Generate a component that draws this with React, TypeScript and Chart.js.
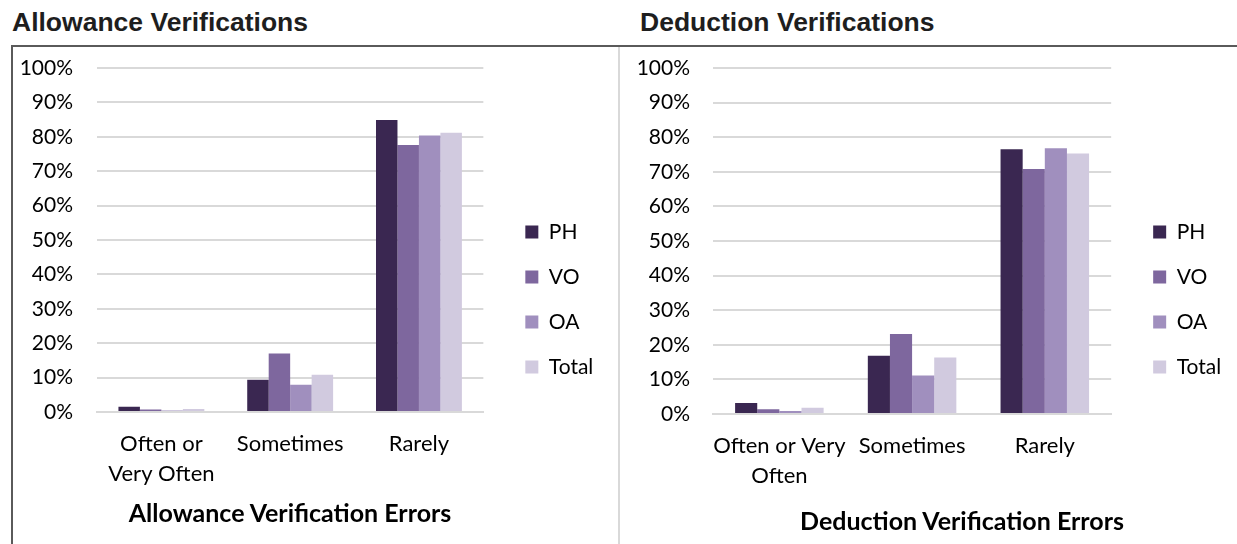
import React, { useEffect, useRef } from "react";
import { Chart, registerables } from "chart.js";

Chart.register(...registerables);

const seriesNames = ["PH", "VO", "OA", "Total"];
const seriesColors = ["#3A2751", "#7E679E", "#A08FBE", "#D1CADF"];

const allowanceCategories: (string | string[])[] = [["Often or", "Very Often"], "Sometimes", "Rarely"];
const allowancePH = [1.5, 9.4, 84.9];
const allowanceVO = [0.7, 17.0, 77.6];
const allowanceOA = [0.4, 7.9, 80.4];
const allowanceTotal = [0.9, 10.8, 81.2];

const deductionCategories: (string | string[])[] = [["Often or Very", "Often"], "Sometimes", "Rarely"];
const deductionPH = [3.2, 16.8, 76.5];
const deductionVO = [1.4, 23.1, 70.8];
const deductionOA = [0.9, 11.1, 76.8];
const deductionTotal = [1.8, 16.3, 75.3];

const yMin = 0;
const yMax = 100;
const yStep = 10;

const FONT = "Lato, 'Open Sans', sans-serif";
const LABEL_SIZE = 21;
const XLABEL_SIZE = 22;

type PanelProps = {
  left: number;
  top: number;
  width: number;
  height: number;
  categories: (string | string[])[];
  series: number[][];
  yAxisWidth: number;
  yPad: number;
  xAxisHeight: number;
  rightPad: number;
};

function zeroPad(s: any) {
  s.paddingTop = 0;
  s.paddingBottom = 0;
}

function BarPanel(props: PanelProps) {
  const ref = useRef<HTMLCanvasElement | null>(null);
  useEffect(() => {
    if (!ref.current) return;
    const chart = new Chart(ref.current, {
      type: "bar",
      data: {
        labels: props.categories,
        datasets: props.series.map((vals, i) => ({
          label: seriesNames[i],
          data: vals,
          backgroundColor: seriesColors[i],
          borderWidth: 0,
          categoryPercentage: 0.667,
          barPercentage: 1.0,
        })),
      },
      options: {
        animation: false,
        responsive: false,
        maintainAspectRatio: false,
        layout: { padding: { top: 21, bottom: 13, left: 0, right: props.rightPad } },
        plugins: {
          legend: {
            position: "right",
            align: "center",
            labels: {
              boxWidth: 13,
              boxHeight: 13,
              padding: 24,
              color: "#000",
              font: { family: FONT, size: LABEL_SIZE },
            },
          },
          tooltip: { enabled: false },
          title: { display: false },
        },
        scales: {
          x: {
            grid: { display: false },
            border: { display: true, color: "#D9D9D9", width: 2 },
            ticks: {
              padding: 9,
              color: "#000",
              maxRotation: 0,
              autoSkip: false,
              font: { family: FONT, size: XLABEL_SIZE, lineHeight: 30 / XLABEL_SIZE },
            },
            afterFit: (s: any) => {
              s.height = props.xAxisHeight;
            },
          },
          y: {
            min: yMin,
            max: yMax,
            ticks: {
              stepSize: yStep,
              padding: props.yPad,
              color: "#000",
              font: { family: FONT, size: LABEL_SIZE },
              callback: (v: any) => v + "%",
            },
            grid: { color: "#D9D9D9", lineWidth: 2, drawTicks: false },
            border: { display: false },
            afterFit: (s: any) => {
              s.width = props.yAxisWidth;
              zeroPad(s);
            },
          },
          gap: {
            type: "linear",
            position: "right",
            display: true,
            grid: { display: false },
            border: { display: false },
            ticks: { display: false },
            afterFit: (s: any) => {
              s.width = 18;
              zeroPad(s);
            },
          },
        },
      } as any,
    });
    return () => chart.destroy();
  }, []);
  return (
    <canvas
      ref={ref}
      width={props.width}
      height={props.height}
      style={{ position: "absolute", left: props.left, top: props.top, width: props.width, height: props.height }}
    />
  );
}

export default function App() {
  const titleStyle: React.CSSProperties = {
    position: "absolute",
    top: 7,
    fontFamily: "'Liberation Sans', Arial, sans-serif",
    fontWeight: "bold",
    fontSize: 26.5,
    color: "#1E1E1E",
    whiteSpace: "nowrap",
    lineHeight: "30px",
  };
  const axisTitleStyle: React.CSSProperties = {
    position: "absolute",
    fontFamily: FONT,
    fontWeight: "bold",
    fontSize: 25,
    color: "#000",
    whiteSpace: "nowrap",
    lineHeight: "30px",
    transform: "translateX(-50%)",
  };
  return (
    <div style={{ position: "absolute", left: 0, top: 0, width: 1237, height: 544, background: "#fff", overflow: "hidden" }}>
      <div style={{ ...titleStyle, left: 12 }}>Allowance Verifications</div>
      <div style={{ ...titleStyle, left: 640 }}>Deduction Verifications</div>
      <div style={{ position: "absolute", left: 11, top: 45, width: 1226, height: 2, background: "#5A5A5A" }} />
      <div style={{ position: "absolute", left: 11, top: 45, width: 2, height: 499, background: "#5A5A5A" }} />
      <div style={{ position: "absolute", left: 618, top: 47, width: 2, height: 497, background: "#D9D9D9" }} />
      <BarPanel
        left={13}
        top={47}
        width={605}
        height={497}
        categories={allowanceCategories}
        series={[allowancePH, allowanceVO, allowanceOA, allowanceTotal]}
        yAxisWidth={84}
        yPad={24}
        xAxisHeight={119}
        rightPad={19}
      />
      <BarPanel
        left={620}
        top={47}
        width={617}
        height={497}
        categories={deductionCategories}
        series={[deductionPH, deductionVO, deductionOA, deductionTotal]}
        yAxisWidth={93}
        yPad={23}
        xAxisHeight={117}
        rightPad={6}
      />
      <div style={{ ...axisTitleStyle, left: 290, top: 497 }}>Allowance Verification Errors</div>
      <div style={{ ...axisTitleStyle, left: 962, top: 505 }}>Deduction Verification Errors</div>
    </div>
  );
}
